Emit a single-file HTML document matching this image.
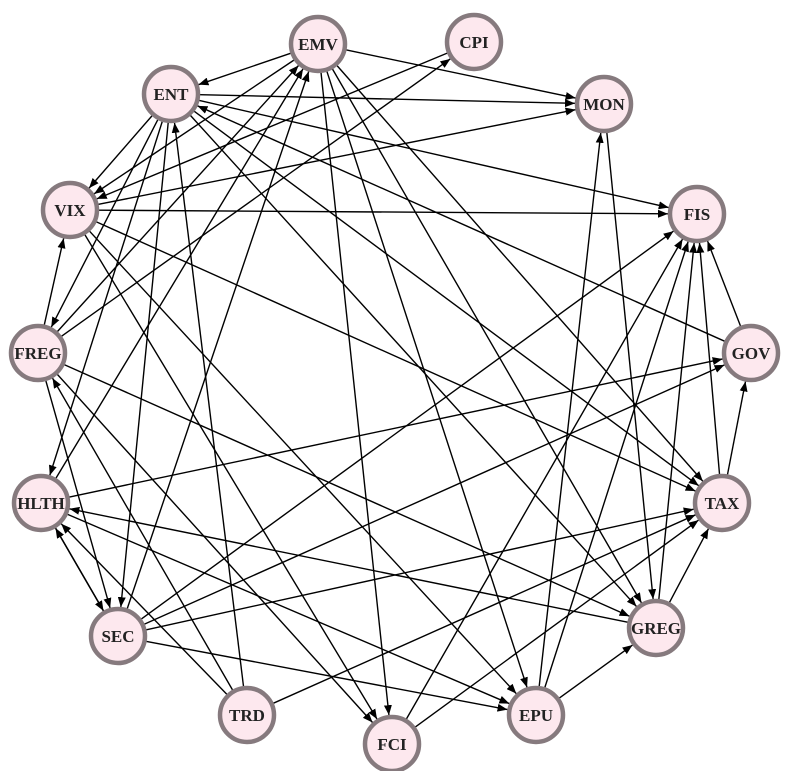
<!DOCTYPE html>
<html><head><meta charset="utf-8"><style>
html,body{margin:0;padding:0;background:#fff;}
svg{display:block;}
text{font-family:"Liberation Serif",serif;font-weight:bold;font-size:17px;fill:#222;}
</style></head><body>
<svg id="g" width="789" height="771" viewBox="0 0 789 771" xmlns="http://www.w3.org/2000/svg">
<defs><marker id="a" markerWidth="10" markerHeight="8" refX="10" refY="4" orient="auto" markerUnits="userSpaceOnUse"><path d="M0,0 L10,4 L0,8 z" fill="#000"/></marker></defs>
<g id="edges" stroke="#000" stroke-width="1.4" fill="none"></g>
<g id="nodes" fill="#fde8ee" stroke="#867a7e" stroke-width="4.5">
<circle cx="318" cy="44" r="27"/><circle cx="474" cy="42" r="27"/><circle cx="171" cy="94" r="27"/>
<circle cx="604" cy="104" r="27"/><circle cx="70" cy="210" r="27"/><circle cx="697" cy="214" r="27"/>
<circle cx="38" cy="353" r="27"/><circle cx="751" cy="353" r="27"/><circle cx="41" cy="503" r="27"/>
<circle cx="722" cy="503" r="27"/><circle cx="118" cy="636" r="27"/><circle cx="656" cy="628" r="27"/>
<circle cx="247" cy="715" r="27"/><circle cx="536" cy="715" r="27"/><circle cx="392" cy="744" r="27"/>
</g>
<g text-anchor="middle">
<text x="318" y="50">EMV</text><text x="474" y="48">CPI</text><text x="171" y="100">ENT</text>
<text x="604" y="110">MON</text><text x="70" y="216">VIX</text><text x="697" y="220">FIS</text>
<text x="38" y="359">FREG</text><text x="751" y="359">GOV</text><text x="41" y="509">HLTH</text>
<text x="722" y="509">TAX</text><text x="118" y="642">SEC</text><text x="656" y="634">GREG</text>
<text x="247" y="721">TRD</text><text x="536" y="721">EPU</text><text x="392" y="750">FCI</text>
</g>
</svg>
<script>
var N={EMV:[318,44],CPI:[474,42],ENT:[171,94],MON:[604,104],VIX:[70,210],FIS:[697,214],FREG:[38,353],GOV:[751,353],HLTH:[41,503],TAX:[722,503],SEC:[118,636],GREG:[656,628],TRD:[247,715],EPU:[536,715],FCI:[392,744]};
var E=[["EMV","ENT"],["EMV","MON"],["EMV","TAX"],["EMV","EPU"],["EMV","FCI"],["EMV","GREG"],["EMV","VIX"],
["ENT","MON"],["ENT","FIS"],["ENT","VIX"],["ENT","HLTH"],["ENT","SEC"],["ENT","FREG"],["ENT","TAX"],["ENT","GREG"],
["GOV","ENT"],["TRD","ENT"],["VIX","FIS"],["VIX","TAX"],["VIX","FCI"],["VIX","MON"],["CPI","VIX"],
["FREG","VIX"],["FREG","EMV"],["FREG","CPI"],["FREG","GREG"],["FREG","FCI"],["FREG","SEC"],
["HLTH","EMV"],["HLTH","GOV"],["HLTH","SEC"],["HLTH","EPU"],["SEC","HLTH"],["SEC","EMV"],["SEC","FIS"],["SEC","TAX"],["SEC","EPU"],["SEC","GOV"],
["TRD","HLTH"],["TRD","FREG"],["TRD","TAX"],["FCI","FIS"],["FCI","TAX"],
["EPU","MON"],["EPU","FIS"],["EPU","GREG"],["GREG","HLTH"],["GREG","FIS"],["GREG","TAX"],
["TAX","FIS"],["TAX","GOV"],["GOV","FIS"],["MON","GREG"],["VIX","EPU"]];
var g=document.getElementById("edges"),r=29,s="";
E.forEach(function(e){var a=N[e[0]],b=N[e[1]],dx=b[0]-a[0],dy=b[1]-a[1],d=Math.hypot(dx,dy),ux=dx/d,uy=dy/d;
s+='<line x1="'+(a[0]+ux*r)+'" y1="'+(a[1]+uy*r)+'" x2="'+(b[0]-ux*r)+'" y2="'+(b[1]-uy*r)+'" marker-end="url(#a)"/>';});
g.innerHTML=s;
</script>
</body></html>
